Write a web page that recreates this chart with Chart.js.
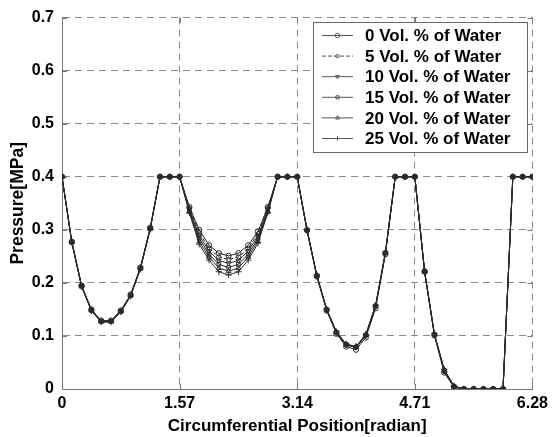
<!DOCTYPE html>
<html>
<head>
<meta charset="utf-8">
<script src="https://cdn.jsdelivr.net/npm/chart.js@4.4.1/dist/chart.umd.min.js"></script>
<style>
  html, body { margin: 0; padding: 0; background: #fff; }
  #wrap { width: 553px; height: 437px; }
</style>
</head>
<body>
<div id="wrap"><canvas id="pressureChart" width="553" height="437"></canvas></div>
<script>
// Pressure around the circumference, one value every 7.5 degrees (49 points, 0..2π)
const angleStep = Math.PI / 24;

const water0 = [0.400, 0.278, 0.195, 0.150, 0.129, 0.129, 0.148, 0.178, 0.229, 0.304, 0.400, 0.400, 0.400,
  0.343, 0.300, 0.271, 0.256, 0.251, 0.256, 0.271, 0.297, 0.343, 0.400, 0.400, 0.400,
  0.299, 0.212, 0.148, 0.104, 0.080, 0.074, 0.097, 0.152, 0.254, 0.400, 0.400, 0.400,
  0.222, 0.101, 0.031, 0.003, 0, 0, 0, 0, 0, 0.400, 0.400, 0.400];
const water5 = [0.400, 0.277, 0.195, 0.149, 0.128, 0.128, 0.147, 0.177, 0.228, 0.303, 0.400, 0.400, 0.400,
  0.341, 0.295, 0.265, 0.249, 0.244, 0.249, 0.265, 0.293, 0.341, 0.400, 0.400, 0.400,
  0.299, 0.213, 0.149, 0.106, 0.083, 0.078, 0.100, 0.155, 0.256, 0.400, 0.400, 0.400,
  0.222, 0.102, 0.033, 0.004, 0, 0, 0, 0, 0, 0.400, 0.400, 0.400];
const water10 = [0.400, 0.277, 0.194, 0.149, 0.128, 0.128, 0.147, 0.177, 0.228, 0.303, 0.400, 0.400, 0.400,
  0.339, 0.289, 0.260, 0.242, 0.237, 0.242, 0.260, 0.288, 0.339, 0.400, 0.400, 0.400,
  0.299, 0.213, 0.149, 0.106, 0.083, 0.079, 0.101, 0.156, 0.256, 0.400, 0.400, 0.400,
  0.221, 0.102, 0.034, 0.004, 0, 0, 0, 0, 0, 0.400, 0.400, 0.400];
const water15 = [0.400, 0.277, 0.194, 0.148, 0.127, 0.127, 0.146, 0.176, 0.227, 0.302, 0.400, 0.400, 0.400,
  0.336, 0.284, 0.254, 0.235, 0.229, 0.235, 0.254, 0.284, 0.336, 0.400, 0.400, 0.400,
  0.300, 0.214, 0.150, 0.107, 0.084, 0.079, 0.102, 0.157, 0.257, 0.400, 0.400, 0.400,
  0.221, 0.103, 0.035, 0.005, 0, 0, 0, 0, 0, 0.400, 0.400, 0.400];
const water20 = [0.400, 0.276, 0.193, 0.148, 0.127, 0.127, 0.146, 0.176, 0.227, 0.302, 0.400, 0.400, 0.400,
  0.334, 0.278, 0.249, 0.228, 0.222, 0.228, 0.249, 0.279, 0.334, 0.400, 0.400, 0.400,
  0.300, 0.214, 0.150, 0.107, 0.084, 0.080, 0.102, 0.157, 0.257, 0.400, 0.400, 0.400,
  0.220, 0.103, 0.036, 0.005, 0, 0, 0, 0, 0, 0.400, 0.400, 0.400];
const water25 = [0.400, 0.276, 0.193, 0.147, 0.126, 0.126, 0.145, 0.175, 0.226, 0.301, 0.400, 0.400, 0.400,
  0.332, 0.273, 0.243, 0.221, 0.215, 0.221, 0.243, 0.275, 0.332, 0.400, 0.400, 0.400,
  0.301, 0.215, 0.151, 0.108, 0.085, 0.080, 0.103, 0.158, 0.258, 0.400, 0.400, 0.400,
  0.220, 0.104, 0.037, 0.006, 0, 0, 0, 0, 0, 0.400, 0.400, 0.400];

const seriesLabels = ['0 Vol. % of Water', '5 Vol. % of Water', '10 Vol. % of Water',
  '15 Vol. % of Water', '20 Vol. % of Water', '25 Vol. % of Water'];
const seriesValues = [water0, water5, water10, water15, water20, water25];

const xTickValues = [0, Math.PI / 2, Math.PI, 3 * Math.PI / 2, 2 * Math.PI];
const xTickLabels = ['0', '1.57', '3.14', '4.71', '6.28'];

// marker per series: circle, diamond, down-triangle, square, up-triangle, plus
const markers = [
  { style: 'circle', rot: 0, r: 2.6 },
  { style: 'rectRot', rot: 0, r: 2.6 },
  { style: 'triangle', rot: 180, r: 2.8 },
  { style: 'rect', rot: 0, r: 2.6 },
  { style: 'triangle', rot: 0, r: 2.8 },
  { style: 'cross', rot: 0, r: 3.2 }
];
const lineColor = '#2a2a2a';
const axisColor = '#777';
const fontFamily = "'Liberation Sans', Arial, sans-serif";

const datasets = seriesValues.map((vals, k) => ({
  label: seriesLabels[k],
  data: vals.map((v, i) => ({ x: i * angleStep, y: v })),
  borderColor: lineColor,
  borderWidth: 1,
  borderDash: k === 1 ? [4, 2] : [],
  pointStyle: markers[k].style,
  pointRotation: markers[k].rot,
  pointRadius: markers[k].r,
  pointBorderWidth: 1,
  pointBorderColor: lineColor,
  pointBackgroundColor: 'rgba(255,255,255,0)',
  tension: 0,
  fill: false
}));

// short inward tick marks on all four sides of the plot box
const boxTicks = {
  id: 'boxTicks',
  beforeDatasetsDraw(chart) {
    const { ctx, chartArea: a, scales } = chart;
    const len = 5;
    ctx.save();
    ctx.strokeStyle = axisColor;
    ctx.lineWidth = 1;
    ctx.beginPath();
    scales.x.ticks.forEach(t => {
      const px = Math.round(scales.x.getPixelForValue(t.value)) + 0.5;
      ctx.moveTo(px, a.bottom); ctx.lineTo(px, a.bottom - len);
      ctx.moveTo(px, a.top); ctx.lineTo(px, a.top + len);
    });
    scales.y.ticks.forEach(t => {
      const py = Math.round(scales.y.getPixelForValue(t.value)) + 0.5;
      ctx.moveTo(a.left, py); ctx.lineTo(a.left + len, py);
      ctx.moveTo(a.right, py); ctx.lineTo(a.right - len, py);
    });
    ctx.stroke();
    ctx.restore();
  }
};

// legend box drawn inside the plot area, top right
const boxLegend = {
  id: 'boxLegend',
  afterDatasetsDraw(chart) {
    const ctx = chart.ctx;
    const left = 313, top = 22, width = 214, height = 130;
    ctx.save();
    ctx.fillStyle = '#fff';
    ctx.fillRect(left, top, width, height);
    ctx.strokeStyle = '#666';
    ctx.lineWidth = 1;
    ctx.strokeRect(left + 0.5, top + 0.5, width, height);
    ctx.font = 'bold 17px ' + fontFamily;
    ctx.textBaseline = 'middle';
    chart.data.datasets.forEach((ds, k) => {
      const y = top + 13.5 + k * 20.6;
      ctx.strokeStyle = '#555';
      ctx.setLineDash(ds.borderDash);
      ctx.beginPath();
      ctx.moveTo(322, y);
      ctx.lineTo(353, y);
      ctx.stroke();
      ctx.setLineDash([]);
      if (Chart.helpers && Chart.helpers.drawPoint) {
        ctx.fillStyle = 'rgba(255,255,255,0)';
        Chart.helpers.drawPoint(ctx, {
          pointStyle: ds.pointStyle,
          rotation: ds.pointRotation,
          radius: 2.2,
          borderWidth: 1
        }, 337.5, y);
      }
      ctx.fillStyle = '#000';
      ctx.fillText(ds.label, 365, y + 1);
    });
    ctx.restore();
  }
};

new Chart(document.getElementById('pressureChart'), {
  type: 'line',
  data: { datasets },
  options: {
    responsive: false,
    animation: false,
    devicePixelRatio: 1,
    layout: { padding: { top: 14, right: 19, left: 0, bottom: 0 } },
    plugins: {
      legend: { display: false },
      tooltip: { enabled: false }
    },
    scales: {
      x: {
        type: 'linear',
        min: 0,
        max: 2 * Math.PI,
        afterBuildTicks: (scale) => { scale.ticks = xTickValues.map(v => ({ value: v })); },
        afterFit: (scale) => { scale.height = 48; },
        ticks: {
          autoSkip: false,
          maxRotation: 0,
          padding: 5,
          color: '#000',
          font: { family: fontFamily, size: 16, weight: 'bold' },
          callback: (value, index) => xTickLabels[index]
        },
        grid: { color: '#8a8a8a', lineWidth: 1, drawTicks: false },
        border: { display: true, color: axisColor, width: 1, dash: [7, 5] },
        title: {
          display: true,
          text: 'Circumferential Position[radian]',
          color: '#000',
          padding: { top: 0, bottom: 0 },
          font: { family: fontFamily, size: 17, weight: 'bold' }
        }
      },
      y: {
        min: 0,
        max: 0.7,
        afterFit: (scale) => { scale.width = 62; },
        ticks: {
          stepSize: 0.1,
          padding: 8,
          color: '#000',
          font: { family: fontFamily, size: 16, weight: 'bold' },
          callback: (value) => value === 0 ? '0' : value.toFixed(1)
        },
        grid: { color: '#8a8a8a', lineWidth: 1, drawTicks: false },
        border: { display: true, color: axisColor, width: 1, dash: [7, 5] },
        title: {
          display: true,
          text: 'Pressure[MPa]',
          color: '#000',
          padding: { top: 8, bottom: 0 },
          font: { family: fontFamily, size: 17.5, weight: 'bold' }
        }
      }
    }
  },
  plugins: [boxTicks, boxLegend]
});
</script>
</body>
</html>
